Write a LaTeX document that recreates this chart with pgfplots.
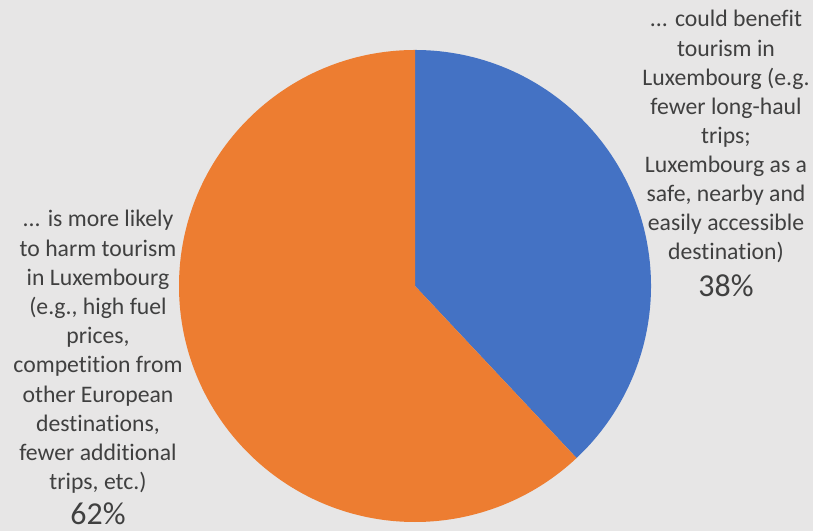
\documentclass[border=0pt]{standalone}
\usepackage{pgfplots}
\usepackage{pgfplotstable}
\pgfplotsset{compat=1.18}
\usepackage{fontspec}
\setmainfont[Ligatures=NoCommon]{Carlito}
\definecolor{bgc}{HTML}{E7E6E6}
\definecolor{pblue}{HTML}{4472C4}
\definecolor{porange}{HTML}{ED7D31}
\definecolor{txt}{HTML}{404040}
\pgfplotstableread{
share
38
62
}\piedata
\newcommand{\RL}[2]{\node at (726,{531-27-29.1*#1}) {#2};}
\newcommand{\LL}[2]{\node at (98,{531-227-29.2*#1}) {#2};}
\begin{document}
\begin{tikzpicture}[x=1bp,y=1bp]
\pgfplotstablegetelem{0}{share}\of\piedata
\pgfmathsetmacro{\angA}{90-3.6*\pgfplotsretval}
\useasboundingbox (0,0) rectangle (813,531);
\fill[bgc] (0,0) rectangle (813,531);
\begin{axis}[x=1bp,y=1bp,xmin=0,xmax=813,ymin=0,ymax=531,
  scale only axis, hide axis, clip=false, at={(0,0)}, anchor=south west]
\fill[pblue] (axis cs:415,245) -- (axis cs:415,481) arc[start angle=90, end angle=\angA, radius=236bp] -- cycle;
\fill[porange] (axis cs:415,245) -- (axis cs:415,481) arc[start angle=90, end angle=\angA+360, radius=236bp] -- cycle;
\end{axis}
\begin{scope}[every node/.style={anchor=base, inner sep=0pt, text=txt, font=\fontsize{23.8}{28}\selectfont}]
\RL{0}{... could benefit}
\RL{1}{tourism in}
\RL{2}{Luxembourg (e.g.}
\RL{3}{fewer long-haul}
\RL{4}{trips;}
\RL{5}{Luxembourg as a}
\RL{6}{safe, nearby and}
\RL{7}{easily accessible}
\RL{8}{destination)}
\node[font=\fontsize{32}{36}\selectfont] at (726,{531-297}) {38\%};
\LL{0}{... is more likely}
\LL{1}{to harm tourism}
\LL{2}{in Luxembourg}
\LL{3}{(e.g., high fuel}
\LL{4}{prices,}
\LL{5}{competition from}
\LL{6}{other European}
\LL{7}{destinations,}
\LL{8}{fewer additional}
\LL{9}{trips, etc.)}
\node[font=\fontsize{32}{36}\selectfont] at (98,{531-525}) {62\%};
\end{scope}
\end{tikzpicture}
\end{document}
